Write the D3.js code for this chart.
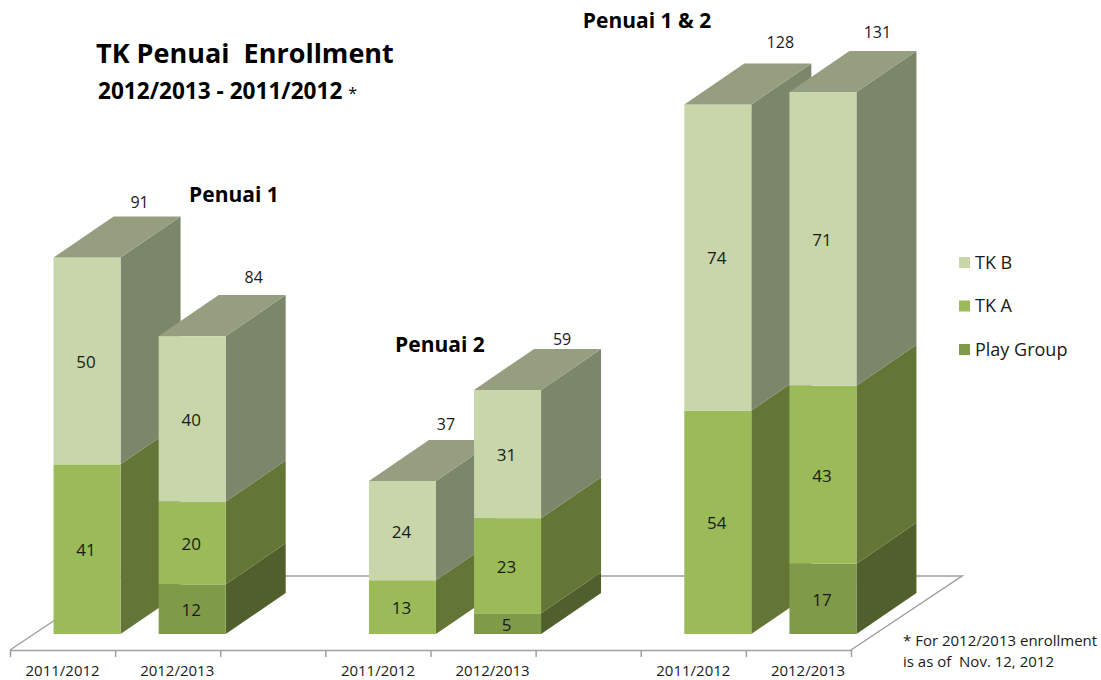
<!DOCTYPE html>
<html>
<head>
<meta charset="utf-8">
<script src="https://cdn.jsdelivr.net/npm/d3@7"></script>
<style>
  html, body { margin: 0; padding: 0; background: #fff; }
  svg { display: block; }
  text { font-family: "Open Sans", sans-serif; fill: #1a1a1a; white-space: pre; }
</style>
</head>
<body>
<div id="chart"></div>
<script>
// stacked from the bottom up; slots 2 and 5 stay empty between the groups
const slots = [0, 1, 3, 4, 6, 7];
const periods = ["2011/2012", "2012/2013", "2011/2012", "2012/2013", "2011/2012", "2012/2013"];
const playGroup = [0, 12, 0, 5, 0, 17];
const tkA = [41, 20, 13, 23, 54, 43];
const tkB = [50, 40, 24, 31, 74, 71];
// printed totals, the second one does not equal its stack in the source
const totals = [91, 84, 37, 59, 128, 131];

const seriesNames = ["Play Group", "TK A", "TK B"];
const legendOrder = ["TK B", "TK A", "Play Group"];
const groupLabels = ["Penuai 1", "Penuai 2", "Penuai 1 & 2"];

const width = 1101, height = 680;

const faceColor = { "Play Group": "#7f9a48", "TK A": "#9bbb59", "TK B": "#c8d6aa" };
const sideColor = { "Play Group": "#505f2c", "TK A": "#647636", "TK B": "#7c866a" };
const topColor = { "Play Group": "#7f9a48", "TK A": "#9bbb59", "TK B": "#959f80" };

const floorY = 650, backY = 576, baseY = 634;
const depthX = 60, depthY = -41;
const barW = 67, barShift = 24.5;

const x = d3.scaleBand().domain(d3.range(8)).range([10, 851]).paddingInner(0).paddingOuter(0);
const xTicks = d3.scaleLinear().domain([0, 8]).range([10, 851]);
const y = d3.scaleLinear().domain([0, 131]).range([baseY, 92]);

const svg = d3.select("#chart").append("svg")
    .attr("width", width)
    .attr("height", height);

// floor
const floorLine = d3.line();
svg.append("path")
    .attr("d", floorLine([[10, floorY], [121, backY], [962, backY], [851, floorY]]))
    .attr("fill", "none")
    .attr("stroke", "#a0a0a0")
    .attr("stroke-width", 1.5);

const axis = d3.axisBottom(xTicks)
    .tickValues(d3.range(9))
    .tickFormat("")
    .tickSize(7)
    .tickSizeOuter(0);
const axisG = svg.append("g")
    .attr("transform", "translate(0," + floorY + ")")
    .call(axis);
axisG.selectAll("line, path").attr("stroke", "#a0a0a0").attr("stroke-width", 1.5);

svg.selectAll(".period")
    .data(periods)
  .enter().append("text")
    .attr("class", "period")
    .text(d => d)
    .attr("x", (d, i) => x(slots[i]) + x.bandwidth() / 2 + (d === "2012/2013" ? 9.5 : 0))
    .attr("y", 676)
    .attr("text-anchor", "middle")
    .attr("font-size", 15);

// bars
const rows = periods.map((d, i) => ({
    slot: slots[i],
    "Play Group": playGroup[i],
    "TK A": tkA[i],
    "TK B": tkB[i]
}));
const stacked = d3.stack().keys(seriesNames)(rows);
const poly = pts => pts.map(p => p.join(",")).join(" ");

// the totals were placed by hand in the source, so each has its own nudge
const totalDx = [86, 95, 77, 88, 96, 88];
const totalDy = [-8, -12, -10, -4, -15, -13];

rows.forEach((row, i) => {
    const left = x(row.slot) + x.bandwidth() / 2 + barShift - barW / 2;
    const right = left + barW;
    const g = svg.append("g");
    let lastTop = null;
    stacked.forEach(s => {
        const v = row[s.key];
        if (!v) return;
        const y0 = y(s[i][0]), y1 = y(s[i][1]);
        g.append("polygon")
            .attr("points", poly([[right, y0], [right + depthX, y0 + depthY], [right + depthX, y1 + depthY], [right, y1]]))
            .attr("fill", sideColor[s.key]);
        g.append("rect")
            .attr("x", left)
            .attr("y", y1)
            .attr("width", barW)
            .attr("height", y0 - y1)
            .attr("fill", faceColor[s.key]);
        g.append("text")
            .text(v)
            .attr("x", left + barW / 2 - 1)
            .attr("y", (y0 + y1) / 2 + 7)
            .attr("text-anchor", "middle")
            .attr("font-size", 17);
        lastTop = { y: y1, key: s.key };
    });
    g.append("polygon")
        .attr("points", poly([[left, lastTop.y], [left + depthX, lastTop.y + depthY], [right + depthX, lastTop.y + depthY], [right, lastTop.y]]))
        .attr("fill", topColor[lastTop.key]);
    g.append("text")
        .text(totals[i])
        .attr("x", left + totalDx[i])
        .attr("y", lastTop.y + depthY + totalDy[i])
        .attr("text-anchor", "middle")
        .attr("font-size", 16);
});

// titles
svg.append("text").text("TK Penuai  Enrollment")
    .attr("x", 96).attr("y", 63)
    .attr("font-size", 27).attr("font-weight", 700).style("fill", "#000");
const sub = svg.append("text").attr("x", 98).attr("y", 99)
    .attr("font-size", 22.6).attr("font-weight", 700).style("fill", "#000");
sub.append("tspan").text("2012/2013 - 2011/2012 ");
sub.append("tspan").text("*").attr("font-size", 16).attr("font-weight", 400);

const groupX = [234, 440, 647], groupY = [202, 352, 28];
svg.selectAll(".group")
    .data(groupLabels)
  .enter().append("text")
    .attr("class", "group")
    .text(d => d)
    .attr("x", (d, i) => groupX[i])
    .attr("y", (d, i) => groupY[i])
    .attr("text-anchor", "middle")
    .attr("font-size", 21)
    .attr("font-weight", 700)
    .style("fill", "#000");

// legend
const legendY = d3.scalePoint().domain(legendOrder).range([262, 349]);
const legend = svg.selectAll(".legend")
    .data(legendOrder)
  .enter().append("g")
    .attr("class", "legend")
    .attr("transform", d => "translate(959," + legendY(d) + ")");
legend.append("rect")
    .attr("x", 0).attr("y", -5)
    .attr("width", 11).attr("height", 11)
    .attr("fill", d => faceColor[d]);
legend.append("text")
    .text(d => d)
    .attr("x", 16).attr("y", 6.5)
    .attr("font-size", 18);

// footnote
svg.append("text").text("* For 2012/2013 enrollment")
    .attr("x", 903).attr("y", 646).attr("font-size", 15);
svg.append("text").text("is as of  Nov. 12, 2012")
    .attr("x", 903).attr("y", 667).attr("font-size", 15);
</script>
</body>
</html>
